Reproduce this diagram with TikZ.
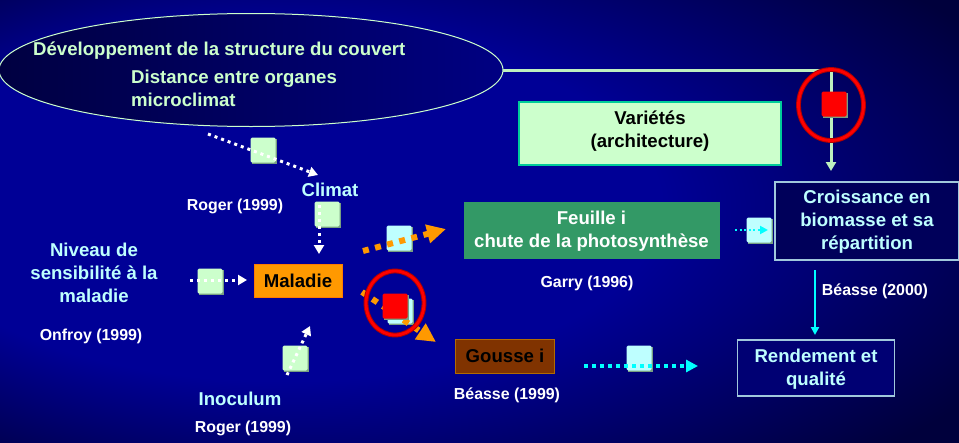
\documentclass[tikz,border=0pt]{standalone}
\usepackage{fontspec}
\setmainfont{Liberation Sans}
\usetikzlibrary{arrows.meta,shadings,shapes.geometric}
\definecolor{bgmid}{RGB}{0,0,150}
\definecolor{bgedge}{RGB}{0,0,60}
\definecolor{pale}{RGB}{204,255,204}
\definecolor{paleline}{RGB}{190,240,190}
\definecolor{ice}{RGB}{190,255,255}
\definecolor{teal}{RGB}{0,204,153}
\definecolor{leaf}{RGB}{51,153,102}
\definecolor{rust}{RGB}{128,51,0}
\definecolor{orangeb}{RGB}{255,153,0}
\definecolor{steel}{RGB}{160,200,220}
\definecolor{shadowg}{RGB}{120,160,130}
\definecolor{cyn}{RGB}{0,255,255}
\definecolor{boxdark}{RGB}{0,0,90}
\definecolor{boxmid}{RGB}{0,0,115}
\definecolor{ellleft}{RGB}{0,0,65}
\definecolor{ellright}{RGB}{0,0,130}
\pgfdeclareradialshading{bgshade}{\pgfpoint{-0.6cm}{0.1cm}}{
 color(0cm)=(bgmid); color(0.7cm)=(bgmid); color(1.3cm)=(bgedge); color(1.8cm)=(bgedge)}
\tikzset{
 x=1pt,y=-1pt,
 every node/.style={font=\fontsize{18.6}{23}\selectfont\bfseries,align=center,inner sep=0pt},
 cite/.style={font=\fontsize{15.9}{18}\selectfont\bfseries,text=white},
 lab/.style={text=ice},
 dotw/.style={draw=white,line width=3pt,dash pattern=on 3pt off 4pt,-{Triangle[length=9pt,width=10pt,fill=white]}},
 doto/.style={draw=orangeb,line width=6pt,dash pattern=on 6pt off 6.5pt,-{Triangle[length=19pt,width=18pt,fill=orangeb]}},
 dotc/.style={draw=cyn,line width=3.6pt,dash pattern=on 4pt off 4pt,-{Triangle[length=12pt,width=12pt,fill=cyn]}},
 dotcs/.style={draw=cyn,line width=2pt,dash pattern=on 2pt off 2.5pt,-{Triangle[length=8pt,width=8pt,fill=cyn]}},
 ring/.style={draw=red!70!black,line width=1pt,double=red,double distance=2.8pt,ellipse,minimum width=58pt,minimum height=64pt},
}
\newcommand{\notebox}[4]{%
 \fill[shadowg] (#2-11.5,#3-11.5) rectangle (#2+14,#3+14);
 \node[minimum size=25pt,rounded corners=1.5pt,fill=#4] (#1) at (#2,#3) {};
}
\begin{document}
\begin{tikzpicture}
\useasboundingbox (0,0) rectangle (959,442);
\fill[shading=bgshade] (0,0) rectangle (959,442);

% ellipse
\node[draw=pale,line width=1pt,ellipse,minimum width=504pt,minimum height=113pt,left color=ellleft,right color=ellright] (couvert) at (251,70) {};
\node[text=pale,anchor=west] (t1) at (33,51) {Développement de la structure du couvert};
\node[text=pale,anchor=west,align=left] (t2) at (131,88) {Distance entre organes\\microclimat};

% boxes
\node[draw=teal,line width=2pt,fill=pale,minimum width=262pt,minimum height=63pt] (var) at (650,133.5) {};
\node[text=black] (vart) at (650,131) {Variétés\\(architecture)};
\node[fill=leaf,minimum width=256pt,minimum height=57pt] (feuille) at (591.5,230) {};
\node[text=white] (feuillet) at (591.5,231) {Feuille i\\chute de la photosynthèse};
\node[draw=steel,line width=1.5pt,fill=boxdark,minimum width=184pt,minimum height=78pt] (croiss) at (867,221) {};
\node[text=ice] (croisst) at (867,222) {Croissance en\\biomasse et sa\\répartition};
\node[draw=steel,line width=1.5pt,fill=boxmid,minimum width=157pt,minimum height=56pt] (rend) at (816,368) {};
\node[text=ice] (rendt) at (816,369) {Rendement et\\qualité};
\node[draw=orangeb!80!red,line width=1pt,fill=orangeb,text=black,minimum width=88pt,minimum height=33pt] (mal) at (298,281) {Maladie};
\node[draw=orangeb!70!black,line width=1pt,fill=rust,text=black,minimum width=99pt,minimum height=34pt] (gousse) at (505,356) {Gousse i};

% free ends
\coordinate (a1) at (208,134);
\coordinate (a2) at (318,175);
\coordinate (b1) at (319,205);
\coordinate (b2) at (319,254);
\coordinate (c1) at (190,280);
\coordinate (c2) at (247,280);
\coordinate (d1) at (287,375);
\coordinate (d2) at (310,326);
\coordinate (e1) at (363,251);
\coordinate (e2) at (446,229);
\coordinate (f1) at (362,292);
\coordinate (f2) at (436,342);
\coordinate (g1) at (584,366);
\coordinate (g2) at (698,366);
\coordinate (h1) at (735,230);
\coordinate (h2) at (768,230);
\coordinate (i1) at (815,270);
\coordinate (i2) at (815,335);
\coordinate (j1) at (503,70);
\coordinate (j2) at (831,70);
\coordinate (j3) at (831,171);

% notes
\notebox{n1}{263}{150}{pale}
\notebox{n2}{327}{214}{pale}
\notebox{n3}{210}{281}{pale}
\notebox{n4}{295}{358}{pale}
\notebox{n5}{399}{238}{ice}
\notebox{n6}{759}{230}{ice}
\notebox{n7}{639}{358}{ice}
\notebox{n8}{400}{311}{ice}

% connectors
\draw[paleline,line width=3pt] (j1) -- (j2);
\draw[paleline,line width=3pt,-{Triangle[length=9pt,width=10pt,fill=paleline]}] (j2) -- (j3);
\draw[cyn,line width=2.5pt,-{Triangle[length=8pt,width=8pt,fill=cyn]}] (i1) -- (i2);
\draw[dotw] (a1) -- (a2);
\draw[dotw] (b1) -- (b2);
\draw[dotw] (c1) -- (c2);
\draw[dotw] (d1) -- (d2);
\draw[doto] (e1) -- (e2);
\draw[doto] (f1) -- (f2);
\draw[dotc] (g1) -- (g2);
\draw[dotcs] (h1) -- (h2);

% red marks
\notebox{r1}{395}{306}{red}
\notebox{r2}{834}{104}{red}
\node[ring] (ring1) at (395,303) {};
\node[ring,minimum width=65pt,minimum height=71pt] (ring2) at (831,105) {};

% labels
\node[lab] (climat) at (330,190) {Climat};
\node[cite] (rog1) at (235,206) {Roger (1999)};
\node[lab] (niveau) at (94,273) {Niveau de\\sensibilité à la\\maladie};
\node[cite] (onf) at (91,336) {Onfroy (1999)};
\node[lab] (inoc) at (240,399) {Inoculum};
\node[cite] (rog2) at (243,428) {Roger (1999)};
\node[cite] (gar) at (587,283) {Garry (1996)};
\node[cite] (bea1) at (507,395) {Béasse (1999)};
\node[cite] (bea2) at (875,291) {Béasse (2000)};
\end{tikzpicture}
\end{document}
